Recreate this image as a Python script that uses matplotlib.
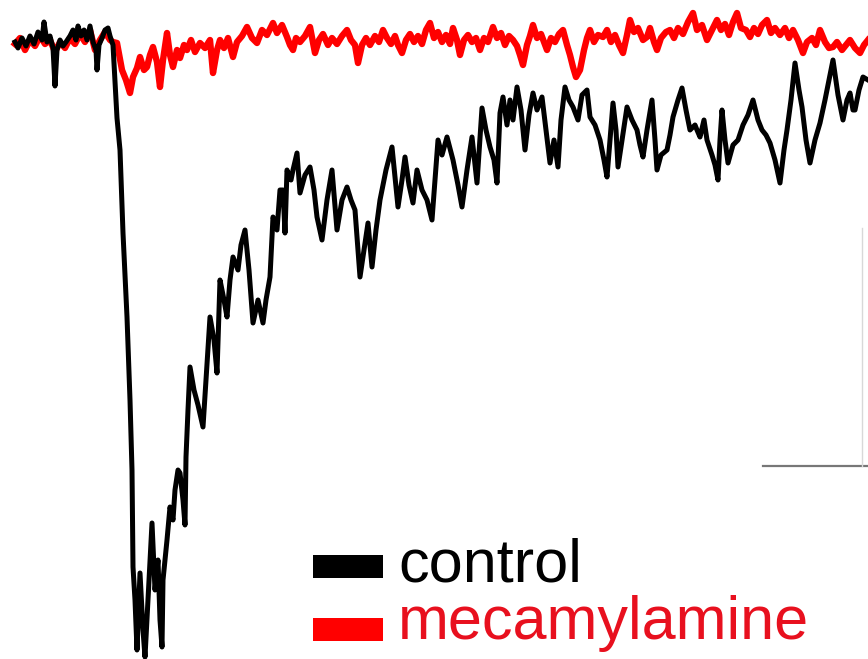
import matplotlib
matplotlib.use("Agg")
import matplotlib.pyplot as plt

# Time (ms) and current (pA, negative = inward)
control_t = [15, 18, 22, 26, 30, 34, 38, 42, 44, 47, 50, 53, 55, 57, 60, 63, 66, 70, 73, 76,
             78, 81, 84, 87, 90, 93, 96, 97, 99, 102, 105, 108, 110, 113, 117, 120, 123, 127, 130, 132,
             133, 135, 137, 140, 143, 145, 148, 152, 155, 158, 160, 162, 163, 167, 170, 173, 175, 178, 180, 183,
             185, 186, 188, 190, 194, 198, 203, 206, 210, 214, 217, 220, 224, 227, 230, 233, 238, 241, 245, 249,
             253, 258, 263, 266, 270, 273, 277, 280, 283, 285, 287, 291, 293, 297, 300, 305, 310, 314, 317, 322,
             327, 332, 337, 342, 347, 351, 355, 360, 364, 368, 372, 376, 380, 386, 392, 398, 402, 405, 409, 413,
             417, 422, 427, 432, 438, 442, 447, 453, 458, 462, 467, 472, 477, 482, 486, 490, 494, 497, 500, 503,
             507, 510, 513, 517, 521, 525, 529, 533, 537, 542, 546, 550, 554, 558, 561, 565, 569, 573, 578, 582,
             587, 590, 595, 600, 604, 607, 610, 613, 616, 618, 622, 627, 632, 637, 640, 643, 647, 652, 655, 657,
             661, 667, 670, 673, 678, 682, 686, 690, 695, 697, 700, 704, 707, 712, 715, 718, 720, 722, 725, 728,
             733, 738, 743, 748, 753, 758, 762, 766, 770, 775, 780, 784, 787, 791, 795, 799, 802, 806, 810, 815,
             820, 825, 829, 833, 838, 843, 847, 850, 853, 855, 859, 863, 868]
control_i = [-42, -48, -38, -46, -36, -44, -32, -40, -22, -42, -36, -48, -86, -50, -40, -46, -42, -36, -30, -40,
             -26, -36, -30, -40, -26, -42, -50, -70, -45, -38, -30, -28, -36, -45, -118, -150, -233, -317, -400, -470,
             -567, -600, -650, -573, -630, -657, -600, -523, -590, -560, -620, -647, -580, -540, -507, -520, -490, -470, -473, -500,
             -525, -457, -410, -367, -390, -405, -427, -380, -317, -340, -373, -280, -300, -317, -280, -257, -270, -245, -230, -270,
             -323, -300, -323, -300, -277, -217, -230, -190, -190, -233, -170, -180, -170, -153, -193, -175, -167, -190, -217, -240,
             -200, -170, -230, -200, -187, -200, -210, -277, -250, -223, -267, -230, -200, -170, -147, -207, -180, -157, -185, -203,
             -170, -190, -200, -220, -140, -155, -137, -160, -185, -207, -170, -137, -183, -108, -130, -147, -160, -183, -113, -97,
             -125, -100, -120, -87, -110, -150, -115, -93, -110, -97, -130, -163, -140, -167, -120, -87, -100, -107, -120, -95,
             -90, -117, -125, -140, -160, -177, -140, -103, -130, -167, -140, -107, -120, -130, -145, -157, -130, -100, -140, -170,
             -155, -150, -135, -117, -100, -88, -110, -130, -125, -130, -137, -120, -140, -155, -165, -180, -140, -110, -140, -163,
             -145, -140, -125, -115, -100, -120, -130, -135, -143, -160, -183, -150, -130, -100, -63, -90, -107, -140, -163, -140,
             -123, -100, -80, -60, -95, -120, -100, -93, -110, -110, -90, -77, -80]

meca_t = [15, 20, 25, 30, 35, 40, 45, 50, 55, 60, 65, 70, 75, 80, 85, 90, 95, 100, 105, 110,
          113, 117, 122, 126, 130, 133, 137, 140, 144, 147, 150, 153, 157, 160, 163, 167, 170, 173, 177, 180,
          184, 187, 191, 195, 200, 205, 210, 213, 217, 220, 224, 228, 233, 237, 242, 247, 252, 257, 262, 267,
          273, 277, 282, 287, 290, 293, 296, 300, 305, 310, 315, 319, 323, 328, 332, 337, 342, 347, 351, 355,
          358, 362, 366, 370, 375, 379, 383, 387, 391, 395, 398, 402, 406, 410, 414, 418, 422, 426, 430, 434,
          438, 442, 446, 450, 453, 457, 460, 464, 468, 472, 476, 480, 484, 488, 493, 497, 501, 505, 509, 513,
          517, 520, 523, 527, 530, 533, 537, 541, 544, 547, 551, 555, 559, 563, 567, 570, 573, 576, 580, 584,
          587, 590, 594, 598, 603, 607, 611, 615, 619, 623, 627, 630, 634, 638, 643, 647, 650, 654, 657, 661,
          666, 670, 674, 678, 683, 688, 693, 697, 702, 707, 711, 717, 721, 725, 729, 733, 737, 741, 746, 750,
          754, 758, 762, 767, 771, 775, 780, 785, 789, 793, 798, 803, 807, 812, 816, 820, 825, 829, 833, 837,
          842, 846, 850, 855, 860, 864, 868]
meca_i = [-44, -38, -50, -40, -46, -36, -44, -40, -52, -42, -48, -38, -44, -34, -42, -30, -50, -40, -32, -40,
          -42, -43, -70, -80, -93, -77, -68, -57, -70, -67, -55, -47, -62, -87, -60, -33, -55, -67, -50, -58,
          -45, -50, -40, -52, -43, -48, -40, -73, -50, -40, -48, -38, -57, -42, -36, -27, -38, -43, -30, -35,
          -23, -33, -25, -37, -45, -50, -38, -42, -36, -27, -53, -40, -34, -45, -38, -44, -36, -30, -40, -45,
          -63, -45, -38, -45, -36, -42, -30, -38, -44, -36, -45, -53, -40, -34, -42, -36, -44, -30, -23, -38,
          -32, -42, -35, -44, -28, -40, -55, -40, -35, -42, -38, -50, -38, -42, -27, -38, -33, -45, -36, -40,
          -46, -55, -65, -45, -36, -25, -38, -34, -42, -50, -38, -42, -34, -30, -45, -55, -67, -77, -70, -50,
          -38, -30, -42, -35, -37, -30, -42, -35, -45, -53, -35, -20, -32, -28, -40, -37, -28, -42, -50, -38,
          -32, -30, -38, -28, -34, -22, -13, -30, -25, -40, -32, -20, -30, -24, -35, -22, -13, -28, -30, -37,
          -28, -34, -25, -20, -33, -28, -35, -28, -38, -30, -40, -53, -42, -38, -45, -30, -42, -48, -47, -42,
          -50, -45, -40, -48, -53, -45, -40]

legend_labels = ["control", "mecamylamine"]
colors = ["#000000", "#ff0000"]

# scale bar (time span, current span)
bar_t = [763, 868]
bar_i = [-466, -228]

fig = plt.figure(figsize=(8.68, 6.59), dpi=100)
ax = fig.add_axes([0, 0, 1, 1])
ax.set_xlim(0, 868)
ax.set_ylim(-659, 0)
ax.axis("off")

ax.plot(meca_t, meca_i, color=colors[1], lw=4.6, solid_joinstyle="round", zorder=2)
ax.plot(control_t, control_i, color=colors[0], lw=3.6, solid_joinstyle="round", zorder=3)

# scale bars
ax.plot(bar_t, [bar_i[0], bar_i[0]], color="#777777", lw=1.6, zorder=1)
ax.plot([862, 862], bar_i, color="#d8d8d8", lw=1.0, zorder=1)

# legend
for k, (lab, col) in enumerate(zip(legend_labels, colors)):
    yc = -566 - k * 63
    ax.fill_between([313, 383], yc - 11.5, yc + 11.5, color=col, lw=0, zorder=4)
    ax.text(398, yc - 16 if k == 0 else yc - 10, lab, color=col if k == 0 else "#e8101e",
            fontsize=44, family="Liberation Sans", ha="left", va="baseline", zorder=5)

fig.savefig("out.png", dpi=100)
